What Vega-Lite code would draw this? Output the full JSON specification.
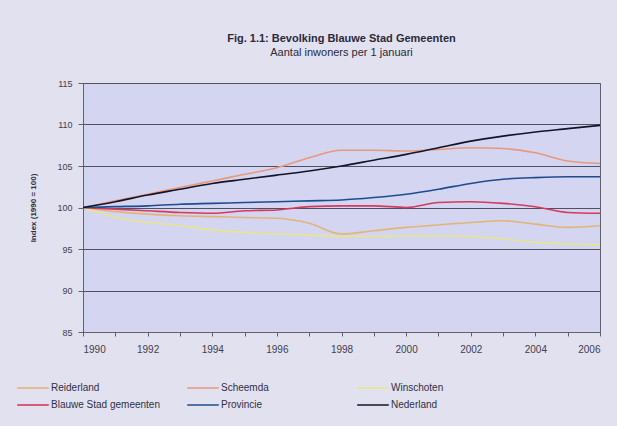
{
  "$schema": "https://vega.github.io/schema/vega-lite/v6.json",
  "autosize": "none",
  "width": 517,
  "height": 249,
  "padding": {"left": 83, "top": 83, "right": 17, "bottom": 94},
  "background": "#e2e1ef",
  "title": {
    "text": "Fig. 1.1: Bevolking Blauwe Stad Gemeenten",
    "subtitle": "Aantal inwoners per 1 januari",
    "font": "Liberation Sans",
    "fontSize": 11,
    "fontWeight": "bold",
    "color": "#2a2a3a",
    "subtitleFont": "Liberation Sans",
    "subtitleFontSize": 11,
    "subtitleColor": "#2a2a3a",
    "subtitlePadding": 3,
    "anchor": "middle",
    "offset": 21
  },
  "config": {
    "view": {"fill": "#d3d5f1", "stroke": "#606070", "strokeWidth": 1},
    "font": "Liberation Sans"
  },
  "data": {
    "values": [
      {"jaar": 1990, "reeks": "Reiderland", "index": 100},
      {"jaar": 1991, "reeks": "Reiderland", "index": 99.5},
      {"jaar": 1992, "reeks": "Reiderland", "index": 99.2},
      {"jaar": 1993, "reeks": "Reiderland", "index": 99.0},
      {"jaar": 1994, "reeks": "Reiderland", "index": 98.9},
      {"jaar": 1995, "reeks": "Reiderland", "index": 98.8},
      {"jaar": 1996, "reeks": "Reiderland", "index": 98.7},
      {"jaar": 1997, "reeks": "Reiderland", "index": 98.1},
      {"jaar": 1998, "reeks": "Reiderland", "index": 96.8},
      {"jaar": 1999, "reeks": "Reiderland", "index": 97.2},
      {"jaar": 2000, "reeks": "Reiderland", "index": 97.6},
      {"jaar": 2001, "reeks": "Reiderland", "index": 97.9},
      {"jaar": 2002, "reeks": "Reiderland", "index": 98.2},
      {"jaar": 2003, "reeks": "Reiderland", "index": 98.4},
      {"jaar": 2004, "reeks": "Reiderland", "index": 98.0},
      {"jaar": 2005, "reeks": "Reiderland", "index": 97.6},
      {"jaar": 2006, "reeks": "Reiderland", "index": 97.8},

      {"jaar": 1990, "reeks": "Scheemda", "index": 100},
      {"jaar": 1991, "reeks": "Scheemda", "index": 100.8},
      {"jaar": 1992, "reeks": "Scheemda", "index": 101.6},
      {"jaar": 1993, "reeks": "Scheemda", "index": 102.4},
      {"jaar": 1994, "reeks": "Scheemda", "index": 103.2},
      {"jaar": 1995, "reeks": "Scheemda", "index": 104.0},
      {"jaar": 1996, "reeks": "Scheemda", "index": 104.8},
      {"jaar": 1997, "reeks": "Scheemda", "index": 106.0},
      {"jaar": 1998, "reeks": "Scheemda", "index": 106.9},
      {"jaar": 1999, "reeks": "Scheemda", "index": 106.9},
      {"jaar": 2000, "reeks": "Scheemda", "index": 106.8},
      {"jaar": 2001, "reeks": "Scheemda", "index": 107.0},
      {"jaar": 2002, "reeks": "Scheemda", "index": 107.2},
      {"jaar": 2003, "reeks": "Scheemda", "index": 107.1},
      {"jaar": 2004, "reeks": "Scheemda", "index": 106.6},
      {"jaar": 2005, "reeks": "Scheemda", "index": 105.6},
      {"jaar": 2006, "reeks": "Scheemda", "index": 105.3},

      {"jaar": 1990, "reeks": "Winschoten", "index": 100},
      {"jaar": 1991, "reeks": "Winschoten", "index": 98.8},
      {"jaar": 1992, "reeks": "Winschoten", "index": 98.2},
      {"jaar": 1993, "reeks": "Winschoten", "index": 97.8},
      {"jaar": 1994, "reeks": "Winschoten", "index": 97.3},
      {"jaar": 1995, "reeks": "Winschoten", "index": 97.0},
      {"jaar": 1996, "reeks": "Winschoten", "index": 96.8},
      {"jaar": 1997, "reeks": "Winschoten", "index": 96.7},
      {"jaar": 1998, "reeks": "Winschoten", "index": 96.5},
      {"jaar": 1999, "reeks": "Winschoten", "index": 96.5},
      {"jaar": 2000, "reeks": "Winschoten", "index": 96.6},
      {"jaar": 2001, "reeks": "Winschoten", "index": 96.6},
      {"jaar": 2002, "reeks": "Winschoten", "index": 96.5},
      {"jaar": 2003, "reeks": "Winschoten", "index": 96.2},
      {"jaar": 2004, "reeks": "Winschoten", "index": 95.8},
      {"jaar": 2005, "reeks": "Winschoten", "index": 95.6},
      {"jaar": 2006, "reeks": "Winschoten", "index": 95.5},

      {"jaar": 1990, "reeks": "Blauwe Stad gemeenten", "index": 100},
      {"jaar": 1991, "reeks": "Blauwe Stad gemeenten", "index": 99.8},
      {"jaar": 1992, "reeks": "Blauwe Stad gemeenten", "index": 99.6},
      {"jaar": 1993, "reeks": "Blauwe Stad gemeenten", "index": 99.4},
      {"jaar": 1994, "reeks": "Blauwe Stad gemeenten", "index": 99.3},
      {"jaar": 1995, "reeks": "Blauwe Stad gemeenten", "index": 99.6},
      {"jaar": 1996, "reeks": "Blauwe Stad gemeenten", "index": 99.7},
      {"jaar": 1997, "reeks": "Blauwe Stad gemeenten", "index": 100.1},
      {"jaar": 1998, "reeks": "Blauwe Stad gemeenten", "index": 100.2},
      {"jaar": 1999, "reeks": "Blauwe Stad gemeenten", "index": 100.2},
      {"jaar": 2000, "reeks": "Blauwe Stad gemeenten", "index": 100.0},
      {"jaar": 2001, "reeks": "Blauwe Stad gemeenten", "index": 100.6},
      {"jaar": 2002, "reeks": "Blauwe Stad gemeenten", "index": 100.7},
      {"jaar": 2003, "reeks": "Blauwe Stad gemeenten", "index": 100.5},
      {"jaar": 2004, "reeks": "Blauwe Stad gemeenten", "index": 100.1},
      {"jaar": 2005, "reeks": "Blauwe Stad gemeenten", "index": 99.4},
      {"jaar": 2006, "reeks": "Blauwe Stad gemeenten", "index": 99.3},

      {"jaar": 1990, "reeks": "Provincie", "index": 100},
      {"jaar": 1991, "reeks": "Provincie", "index": 100.1},
      {"jaar": 1992, "reeks": "Provincie", "index": 100.2},
      {"jaar": 1993, "reeks": "Provincie", "index": 100.4},
      {"jaar": 1994, "reeks": "Provincie", "index": 100.5},
      {"jaar": 1995, "reeks": "Provincie", "index": 100.6},
      {"jaar": 1996, "reeks": "Provincie", "index": 100.7},
      {"jaar": 1997, "reeks": "Provincie", "index": 100.8},
      {"jaar": 1998, "reeks": "Provincie", "index": 100.9},
      {"jaar": 1999, "reeks": "Provincie", "index": 101.2},
      {"jaar": 2000, "reeks": "Provincie", "index": 101.6},
      {"jaar": 2001, "reeks": "Provincie", "index": 102.2},
      {"jaar": 2002, "reeks": "Provincie", "index": 102.9},
      {"jaar": 2003, "reeks": "Provincie", "index": 103.4},
      {"jaar": 2004, "reeks": "Provincie", "index": 103.6},
      {"jaar": 2005, "reeks": "Provincie", "index": 103.7},
      {"jaar": 2006, "reeks": "Provincie", "index": 103.7},

      {"jaar": 1990, "reeks": "Nederland", "index": 100},
      {"jaar": 1991, "reeks": "Nederland", "index": 100.7},
      {"jaar": 1992, "reeks": "Nederland", "index": 101.5},
      {"jaar": 1993, "reeks": "Nederland", "index": 102.2},
      {"jaar": 1994, "reeks": "Nederland", "index": 102.9},
      {"jaar": 1995, "reeks": "Nederland", "index": 103.4},
      {"jaar": 1996, "reeks": "Nederland", "index": 103.9},
      {"jaar": 1997, "reeks": "Nederland", "index": 104.4},
      {"jaar": 1998, "reeks": "Nederland", "index": 105.0},
      {"jaar": 1999, "reeks": "Nederland", "index": 105.7},
      {"jaar": 2000, "reeks": "Nederland", "index": 106.4},
      {"jaar": 2001, "reeks": "Nederland", "index": 107.2},
      {"jaar": 2002, "reeks": "Nederland", "index": 108.0},
      {"jaar": 2003, "reeks": "Nederland", "index": 108.6},
      {"jaar": 2004, "reeks": "Nederland", "index": 109.1},
      {"jaar": 2005, "reeks": "Nederland", "index": 109.5},
      {"jaar": 2006, "reeks": "Nederland", "index": 109.9}
    ]
  },
  "mark": {"type": "line", "interpolate": "monotone"},
  "encoding": {
    "x": {
      "field": "jaar",
      "type": "quantitative",
      "scale": {"domain": [1990, 2006], "nice": false, "zero": false},
      "axis": {
        "title": null,
        "values": [1990,1991,1992,1993,1994,1995,1996,1997,1998,1999,2000,2001,2002,2003,2004,2005,2006],
        "labelExpr": "datum.value % 2 == 0 ? datum.value : ''",
        "format": "d",
        "grid": false,
        "domainColor": "#606070",
        "tickColor": "#606070",
        "tickSize": 4,
        "labelColor": "#404050",
        "labelFontSize": 10,
        "labelPadding": 8,
        "labelOverlap": false
      }
    },
    "y": {
      "field": "index",
      "type": "quantitative",
      "scale": {"domain": [85, 115], "nice": false, "zero": false},
      "axis": {
        "title": "Index (1990 = 100)",
        "titleFontSize": 8,
        "titleFontWeight": "bold",
        "titleColor": "#303040",
        "titlePadding": 19,
        "values": [85, 90, 95, 100, 105, 110, 115],
        "grid": true,
        "gridColor": "#505064",
        "gridWidth": 1,
        "domainColor": "#606070",
        "tickColor": "#606070",
        "tickSize": 5,
        "labelColor": "#404050",
        "labelFontSize": 9,
        "labelPadding": 6
      }
    },
    "color": {
      "field": "reeks",
      "type": "nominal",
      "scale": {
        "domain": ["Reiderland", "Scheemda", "Winschoten", "Blauwe Stad gemeenten", "Provincie", "Nederland"],
        "range": ["#e2b577", "#e8997c", "#e6e68a", "#d63a5c", "#1e4d8f", "#141428"]
      },
      "legend": {
        "title": null,
        "orient": "none",
        "legendX": -67,
        "legendY": 298,
        "direction": "horizontal",
        "columns": 3,
        "gridAlign": "all",
        "columnPadding": 26,
        "rowPadding": 3,
        "clipHeight": 14,
        "symbolType": "stroke",
        "symbolSize": 1000,
        "symbolStrokeWidth": 3,
        "labelFontSize": 10,
        "labelColor": "#303048",
        "labelOffset": 1
      }
    },
    "strokeWidth": {
      "field": "reeks",
      "type": "nominal",
      "scale": {
        "domain": ["Reiderland", "Scheemda", "Winschoten", "Blauwe Stad gemeenten", "Provincie", "Nederland"],
        "range": [1.6, 1.6, 1.6, 2.6, 2.6, 2.6]
      },
      "legend": null
    }
  }
}
